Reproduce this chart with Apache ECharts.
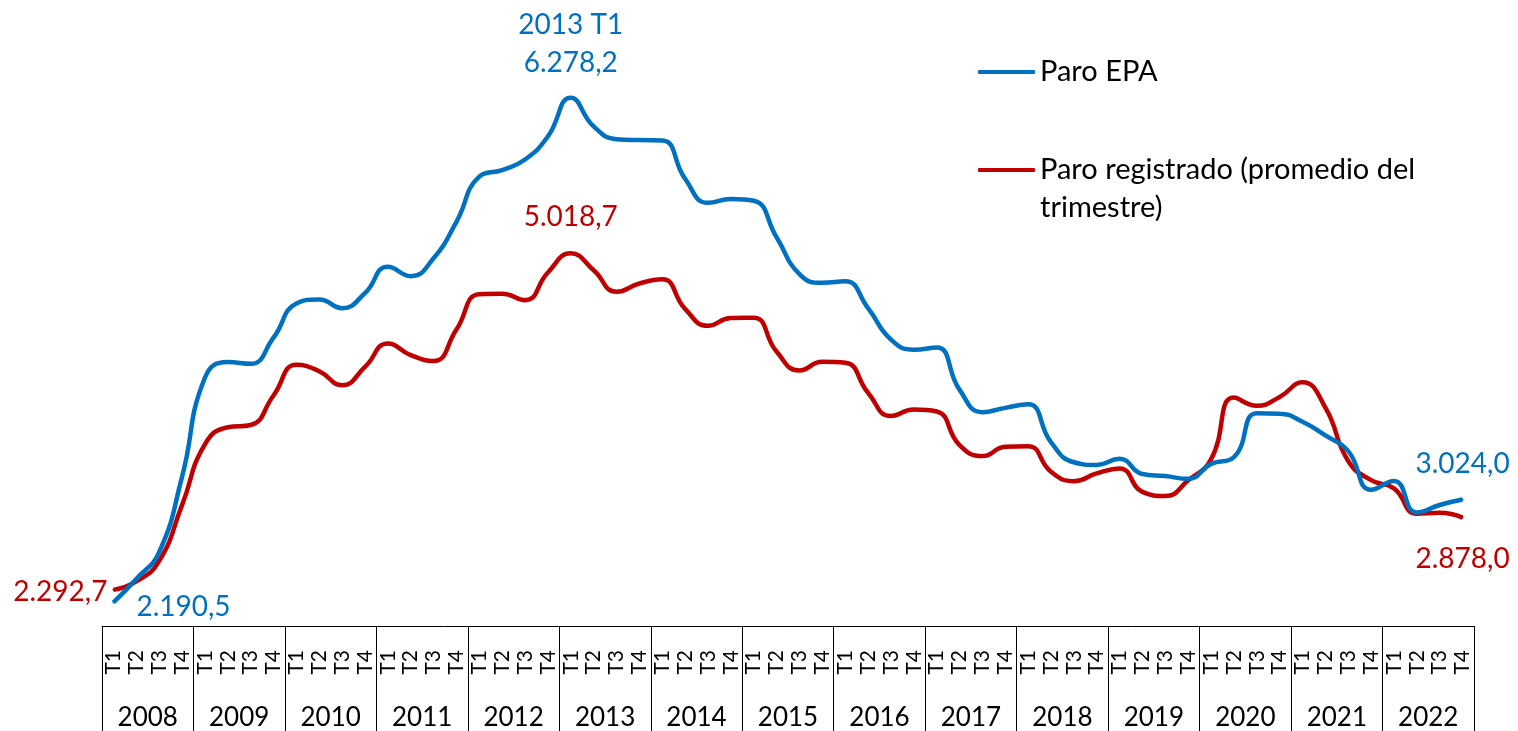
<!DOCTYPE html>
<html>
<head>
<meta charset="utf-8">
<script src="https://cdn.jsdelivr.net/npm/echarts@6/dist/echarts.min.js"></script>
<style>
  html, body { margin: 0; padding: 0; background: #ffffff; }
  #chart { width: 1518px; height: 731px; }
</style>
</head>
<body>
<div id="chart"></div>
<script>
// Unemployment in Spain, thousands of people, quarterly 2008 T1 – 2022 T4
const years = ['2008', '2009', '2010', '2011', '2012', '2013', '2014', '2015',
               '2016', '2017', '2018', '2019', '2020', '2021', '2022'];
const quarters = ['T1', 'T2', 'T3', 'T4'];

// Paro EPA (encuesta de población activa)
const paroEPA = [
  2190.5, 2381.5, 2598.8, 3207.9,
  4010.7, 4137.5, 4123.3, 4335.0,
  4612.7, 4645.5, 4574.7, 4696.6,
  4910.2, 4833.7, 4978.3, 5273.6,
  5639.5, 5693.1, 5778.1, 5965.4,
  6278.2, 6047.3, 5943.4, 5935.6,
  5933.3, 5622.9, 5427.7, 5457.7,
  5444.6, 5149.0, 4850.8, 4779.5,
  4791.4, 4574.7, 4320.8, 4237.8,
  4255.0, 3914.3, 3731.7, 3766.7,
  3796.1, 3490.1, 3326.0, 3304.3,
  3354.2, 3230.6, 3214.4, 3191.9,
  3313.0, 3368.0, 3722.9, 3719.8,
  3653.9, 3543.8, 3416.7, 3103.8,
  3174.7, 2919.4, 2980.2, 3024.0
];

// Paro registrado, promedio de los tres meses del trimestre
const paroRegistrado = [
  2292.7, 2360.7, 2527.2, 2978.8,
  3471.7, 3609.7, 3627.7, 3867.0,
  4115.2, 4063.7, 3950.1, 4098.8,
  4288.0, 4193.6, 4146.0, 4401.3,
  4687.6, 4691.3, 4639.5, 4863.3,
  5018.7, 4881.3, 4707.3, 4773.9,
  4807.6, 4568.7, 4431.8, 4495.6,
  4496.6, 4222.8, 4069.4, 4139.7,
  4132.8, 3889.8, 3700.3, 3752.6,
  3737.8, 3465.6, 3376.1, 3451.4,
  3456.4, 3250.1, 3173.2, 3236.4,
  3276.6, 3086.3, 3052.3, 3179.8,
  3349.4, 3850.6, 3784.1, 3855.1,
  3974.3, 3768.7, 3336.1, 3181.9,
  3114.5, 2908.8, 2916.6, 2878.0
];

const BLUE = '#0070C0';
const RED = '#C00000';
const FONT = 'Lato';

const quarterLabels = years.flatMap(() => quarters);
const lastIdx = paroEPA.length - 1;
const peakIdx = paroEPA.indexOf(Math.max(...paroEPA));
const regPeakIdx = years.indexOf('2013') * 4;

// Spanish number format: 6.278,2
function fmt(v) {
  const parts = v.toFixed(1).split('.');
  return parts[0].replace(/\B(?=(\d{3})+(?!\d))/g, '.') + ',' + parts[1];
}

// A labelled point: tiny marker (hidden under the line) carrying the value label
function labelled(v, color, labelOpts) {
  return {
    value: v,
    symbol: 'circle',
    symbolSize: 2,
    itemStyle: { color: color },
    label: Object.assign({
      show: true, fontFamily: FONT, fontSize: 28, lineHeight: 38, color: color,
      formatter: p => fmt(p.value)
    }, labelOpts)
  };
}

const epaData = paroEPA.map((v, i) => {
  if (i === 0) return labelled(v, BLUE, { position: 'right', distance: 22, offset: [0, 4] });
  if (i === peakIdx) return labelled(v, BLUE, {
    position: 'top', distance: 15,
    formatter: p => years[Math.floor(i / 4)] + ' ' + quarters[i % 4] + '\n' + fmt(p.value)
  });
  if (i === lastIdx) return labelled(v, BLUE, { position: 'top', distance: 16 });
  return v;
});

const regData = paroRegistrado.map((v, i) => {
  if (i === 0) return labelled(v, RED, { position: 'left', distance: 5, offset: [0, 2] });
  if (i === regPeakIdx) return labelled(v, RED, { position: 'top', distance: 16 });
  if (i === lastIdx) return labelled(v, RED, { position: 'bottom', distance: 21 });
  return v;
});

const chart = echarts.init(document.getElementById('chart'), null, { renderer: 'canvas' });

chart.setOption({
  animation: false,
  backgroundColor: '#ffffff',
  grid: { left: 102, right: 44, top: 8.7, bottom: 103.4, containLabel: false },
  legend: [
    {
      data: ['Paro EPA'],
      left: 978, top: 53, padding: 0, itemGap: 0,
      icon: 'roundRect', itemWidth: 57, itemHeight: 4,
      textStyle: { fontFamily: FONT, fontSize: 29, color: '#000', lineHeight: 38 }
    },
    {
      data: ['Paro registrado (promedio del trimestre)'],
      left: 978, top: 113, padding: 0, itemGap: 0,
      icon: 'roundRect', itemWidth: 57, itemHeight: 4,
      // leading blank line keeps the first text line level with the swatch
      formatter: () => '\u00a0\nParo registrado (promedio del\ntrimestre)',
      textStyle: { fontFamily: FONT, fontSize: 29, color: '#000', lineHeight: 38 }
    }
  ],
  xAxis: [
    {
      type: 'category',
      data: quarterLabels,
      boundaryGap: true,
      position: 'bottom',
      offset: 0,
      axisLine: { show: true, lineStyle: { color: '#000', width: 1 } },
      axisTick: { show: false },
      splitLine: { show: false },
      axisLabel: { interval: 0, rotate: 90, margin: 24, fontFamily: FONT, fontSize: 21, color: '#000' }
    },
    {
      type: 'category',
      data: years,
      boundaryGap: true,
      position: 'bottom',
      offset: 0,
      axisLine: { show: false },
      axisTick: { show: true, interval: 0, length: 110, lineStyle: { color: '#000', width: 1 } },
      splitLine: { show: false },
      axisLabel: { interval: 0, margin: 79, fontFamily: FONT, fontSize: 26, color: '#000' }
    }
  ],
  yAxis: {
    type: 'value',
    min: 2000,
    max: 7000,
    show: false,
    splitLine: { show: false }
  },
  series: [
    {
      name: 'Paro EPA',
      type: 'line',
      xAxisIndex: 0,
      data: epaData,
      smooth: 0.5,
      symbol: 'none',
      color: BLUE,
      lineStyle: { color: BLUE, width: 4.5 },
      z: 3
    },
    {
      name: 'Paro registrado (promedio del trimestre)',
      type: 'line',
      xAxisIndex: 0,
      data: regData,
      smooth: 0.5,
      symbol: 'none',
      color: RED,
      lineStyle: { color: RED, width: 4.5 },
      z: 2
    }
  ]
});
</script>
</body>
</html>
